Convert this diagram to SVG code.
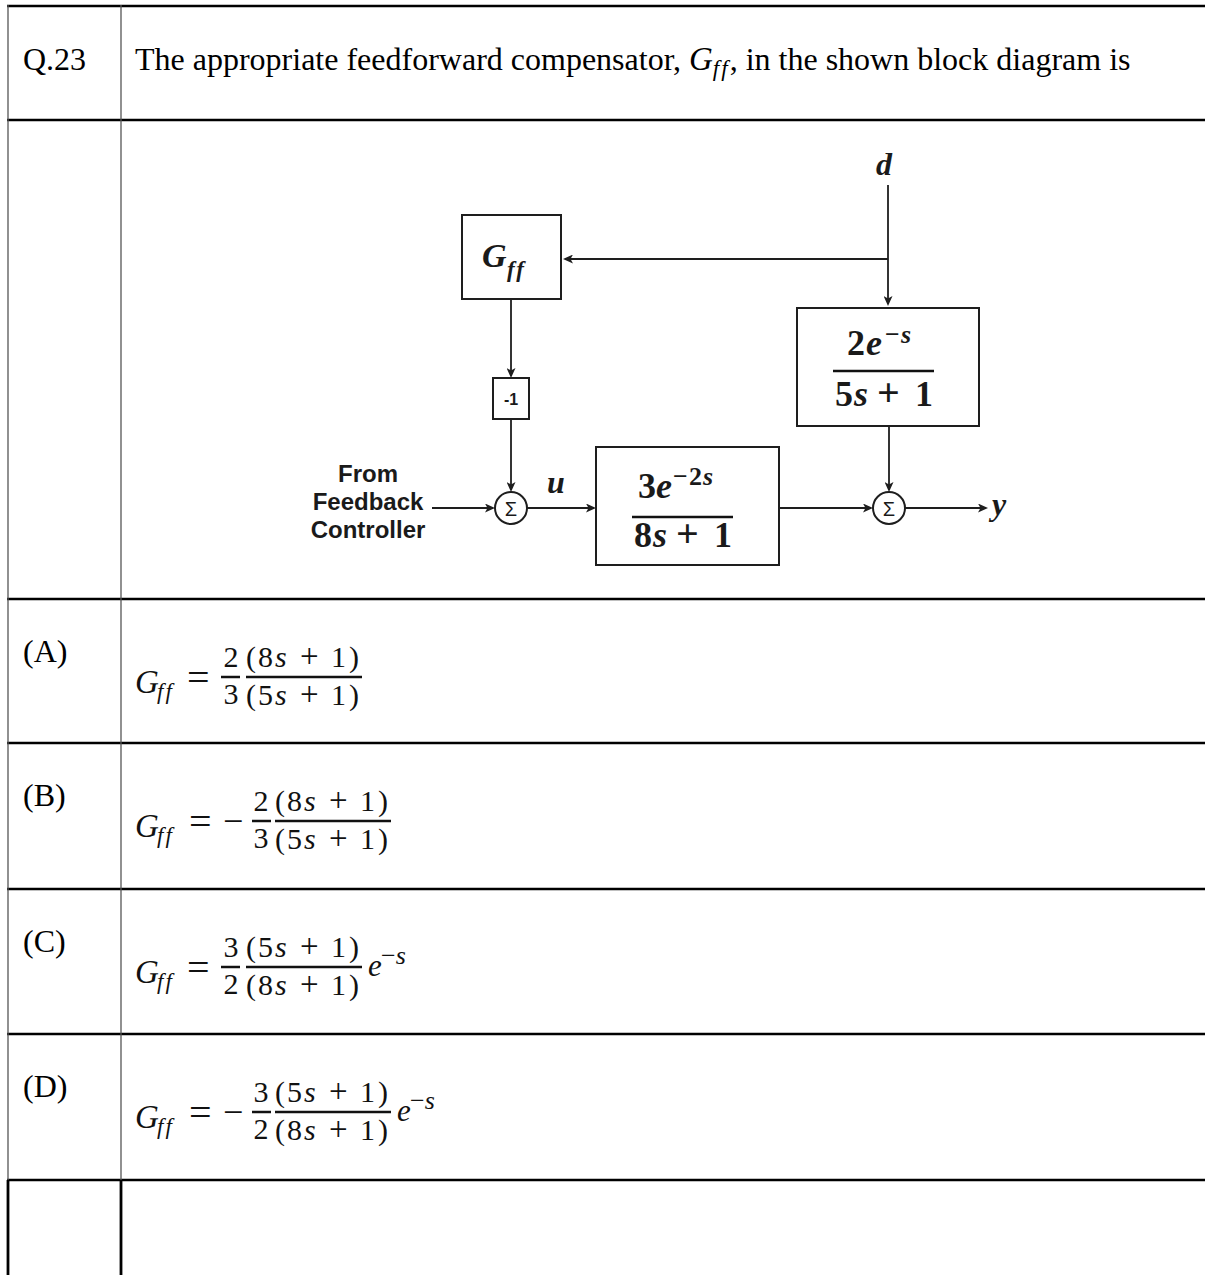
<svg xmlns="http://www.w3.org/2000/svg" width="1205" height="1275" viewBox="0 0 1205 1275">
<style>
text{font-variant-ligatures:none}
.tnr{font-family:"Liberation Serif","Times New Roman",serif;font-size:32px;fill:#000}
.m{font-family:"Liberation Serif","Times New Roman",serif;fill:#111}
.mi{font-style:italic}
.hl{stroke:#000;stroke-width:2.5;fill:none}
.vl{stroke:#555;stroke-width:1.3;fill:none}
.vb{stroke:#000;stroke-width:2.8;fill:none}
.bar{stroke:#111;stroke-width:2.5}
.box{fill:#fff;stroke:#1e1e1e;stroke-width:2}
.con{stroke:#1e1e1e;stroke-width:1.8;fill:none;marker-end:url(#ah)}
.db{font-family:"Liberation Serif","Times New Roman",serif;font-weight:bold;fill:#1a1a1a}
.dbi{font-family:"Liberation Serif","Times New Roman",serif;font-weight:bold;font-style:italic;fill:#1a1a1a}
.sans{font-family:"Liberation Sans",Arial,sans-serif;fill:#1a1a1a}
</style>
<defs>
<marker id="ah" markerUnits="userSpaceOnUse" markerWidth="10" markerHeight="9" viewBox="0 0 10 9" refX="8" refY="4.5" orient="auto">
<path d="M0,0 L10,4.5 L0,9 L2.5,4.5 z" fill="#1e1e1e"/>
</marker>
</defs>
<rect width="1205" height="1275" fill="#fff"/>

<g id="table">
<line class="hl" x1="7" y1="6" x2="1205" y2="6"/>
<line class="hl" x1="7" y1="120" x2="1205" y2="120"/>
<line class="hl" x1="7" y1="599" x2="1205" y2="599"/>
<line class="hl" x1="7" y1="743" x2="1205" y2="743"/>
<line class="hl" x1="7" y1="889" x2="1205" y2="889"/>
<line class="hl" x1="7" y1="1034" x2="1205" y2="1034"/>
<line class="hl" x1="7" y1="1180" x2="1205" y2="1180"/>
<line class="vl" x1="8" y1="5" x2="8" y2="1180"/>
<line class="vl" x1="121" y1="5" x2="121" y2="1180"/>
<line class="vb" x1="8" y1="1180" x2="8" y2="1275"/>
<line class="vb" x1="121" y1="1180" x2="121" y2="1275"/>
</g>

<g id="header">
<text class="tnr" x="23" y="70">Q.23</text>
<text class="tnr" x="135" y="70">The appropriate feedforward compensator, <tspan font-style="italic" font-size="33">G</tspan><tspan font-style="italic" font-size="23" dy="6" letter-spacing="2">ff</tspan><tspan dy="-6">, in the shown block diagram is</tspan></text>
</g>

<g id="labels">
<text class="tnr" x="23" y="662">(A)</text>
<text class="tnr" x="23" y="806">(B)</text>
<text class="tnr" x="23" y="952">(C)</text>
<text class="tnr" x="23" y="1097">(D)</text>
</g>

<g id="optA" transform="translate(0,677)">
<text class="m mi" x="135" y="16" font-size="33">G</text>
<text class="m mi" x="157" y="22" font-size="23" letter-spacing="2">ff</text>
<text class="m" x="187" y="14" font-size="40">=</text>
<line class="bar" x1="221" y1="0" x2="240" y2="0"/>
<text class="m" x="231" y="-10" font-size="30" text-anchor="middle">2</text>
<text class="m" x="231" y="27" font-size="30" text-anchor="middle">3</text>
<line class="bar" x1="246" y1="0" x2="362" y2="0"/>
<text class="m" y="-10" font-size="30"><tspan x="246">(</tspan><tspan x="258">8</tspan><tspan x="275" font-style="italic">s</tspan><tspan x="300" font-size="33">+</tspan><tspan x="331">1</tspan><tspan x="349">)</tspan></text>
<text class="m" y="28" font-size="30"><tspan x="246">(</tspan><tspan x="258">5</tspan><tspan x="275" font-style="italic">s</tspan><tspan x="300" font-size="33">+</tspan><tspan x="331">1</tspan><tspan x="349">)</tspan></text>
</g>

<g id="optB" transform="translate(0,821)">
<text class="m mi" x="135" y="16" font-size="33">G</text>
<text class="m mi" x="157" y="22" font-size="23" letter-spacing="2">ff</text>
<text class="m" x="189" y="14" font-size="40">=</text>
<text class="m" x="223" y="12" font-size="36">−</text>
<line class="bar" x1="252" y1="0" x2="271" y2="0"/>
<text class="m" x="261" y="-10" font-size="30" text-anchor="middle">2</text>
<text class="m" x="261" y="27" font-size="30" text-anchor="middle">3</text>
<line class="bar" x1="275" y1="0" x2="391" y2="0"/>
<text class="m" y="-10" font-size="30"><tspan x="275">(</tspan><tspan x="287">8</tspan><tspan x="304" font-style="italic">s</tspan><tspan x="329" font-size="33">+</tspan><tspan x="360">1</tspan><tspan x="378">)</tspan></text>
<text class="m" y="28" font-size="30"><tspan x="275">(</tspan><tspan x="287">5</tspan><tspan x="304" font-style="italic">s</tspan><tspan x="329" font-size="33">+</tspan><tspan x="360">1</tspan><tspan x="378">)</tspan></text>
</g>

<g id="optC" transform="translate(0,967)">
<text class="m mi" x="135" y="16" font-size="33">G</text>
<text class="m mi" x="157" y="22" font-size="23" letter-spacing="2">ff</text>
<text class="m" x="187" y="14" font-size="40">=</text>
<line class="bar" x1="221" y1="0" x2="240" y2="0"/>
<text class="m" x="231" y="-10" font-size="30" text-anchor="middle">3</text>
<text class="m" x="231" y="27" font-size="30" text-anchor="middle">2</text>
<line class="bar" x1="246" y1="0" x2="362" y2="0"/>
<text class="m" y="-10" font-size="30"><tspan x="246">(</tspan><tspan x="258">5</tspan><tspan x="275" font-style="italic">s</tspan><tspan x="300" font-size="33">+</tspan><tspan x="331">1</tspan><tspan x="349">)</tspan></text>
<text class="m" y="28" font-size="30"><tspan x="246">(</tspan><tspan x="258">8</tspan><tspan x="275" font-style="italic">s</tspan><tspan x="300" font-size="33">+</tspan><tspan x="331">1</tspan><tspan x="349">)</tspan></text>
<text class="m mi" x="368" y="9" font-size="31">e</text>
<text class="m" x="381" y="-3" font-size="26">−<tspan font-style="italic">s</tspan></text>
</g>

<g id="optD" transform="translate(0,1112)">
<text class="m mi" x="135" y="16" font-size="33">G</text>
<text class="m mi" x="157" y="22" font-size="23" letter-spacing="2">ff</text>
<text class="m" x="189" y="14" font-size="40">=</text>
<text class="m" x="223" y="12" font-size="36">−</text>
<line class="bar" x1="252" y1="0" x2="271" y2="0"/>
<text class="m" x="261" y="-10" font-size="30" text-anchor="middle">3</text>
<text class="m" x="261" y="27" font-size="30" text-anchor="middle">2</text>
<line class="bar" x1="275" y1="0" x2="391" y2="0"/>
<text class="m" y="-10" font-size="30"><tspan x="275">(</tspan><tspan x="287">5</tspan><tspan x="304" font-style="italic">s</tspan><tspan x="329" font-size="33">+</tspan><tspan x="360">1</tspan><tspan x="378">)</tspan></text>
<text class="m" y="28" font-size="30"><tspan x="275">(</tspan><tspan x="287">8</tspan><tspan x="304" font-style="italic">s</tspan><tspan x="329" font-size="33">+</tspan><tspan x="360">1</tspan><tspan x="378">)</tspan></text>
<text class="m mi" x="397" y="9" font-size="31">e</text>
<text class="m" x="410" y="-3" font-size="26">−<tspan font-style="italic">s</tspan></text>
</g>

<g id="connectors">
<line class="con" x1="888" y1="185" x2="888" y2="304"/>
<polyline class="con" points="888,259 565,259"/>
<line class="con" x1="511" y1="299" x2="511" y2="376"/>
<line class="con" x1="511" y1="419" x2="511" y2="490"/>
<line class="con" x1="432" y1="508" x2="493" y2="508"/>
<line class="con" x1="527" y1="508" x2="594" y2="508"/>
<line class="con" x1="779" y1="508" x2="871" y2="508"/>
<line class="con" x1="889" y1="426" x2="889" y2="490"/>
<line class="con" x1="905" y1="508" x2="986" y2="508"/>
</g>

<g id="node-gff">
<rect class="box" x="462" y="215" width="99" height="84"/>
<text class="dbi" x="482" y="267" font-size="34">G</text>
<text class="dbi" x="507" y="277" font-size="23" letter-spacing="2">ff</text>
</g>

<g id="node-neg">
<rect class="box" x="493" y="378" width="36" height="41"/>
<text class="sans" x="511" y="405" font-size="16" font-weight="bold" text-anchor="middle">-1</text>
</g>

<g id="node-sum1">
<circle class="box" cx="511" cy="508" r="16"/>
<text class="sans" x="511" y="515.5" font-size="20" text-anchor="middle">Σ</text>
</g>

<g id="node-plant">
<rect class="box" x="596" y="447" width="183" height="118"/>
<text class="db" y="498" font-size="36"><tspan x="638">3</tspan><tspan x="656" font-style="italic">e</tspan></text>
<text class="db" y="485" font-size="26"><tspan x="673">−</tspan><tspan x="689">2</tspan><tspan x="703" font-style="italic">s</tspan></text>
<line class="bar" x1="632" y1="517" x2="733" y2="517"/>
<text class="db" y="547" font-size="36"><tspan x="634">8</tspan><tspan x="653" font-style="italic">s</tspan><tspan x="676" font-size="40">+</tspan><tspan x="714">1</tspan></text>
</g>

<g id="node-dist">
<rect class="box" x="797" y="308" width="182" height="118"/>
<text class="db" y="355" font-size="36"><tspan x="847">2</tspan><tspan x="866" font-style="italic">e</tspan></text>
<text class="db" y="343" font-size="26"><tspan x="885">−</tspan><tspan x="901" font-style="italic">s</tspan></text>
<line class="bar" x1="833" y1="371" x2="934" y2="371"/>
<text class="db" y="406" font-size="36"><tspan x="835">5</tspan><tspan x="854" font-style="italic">s</tspan><tspan x="877" font-size="40">+</tspan><tspan x="915">1</tspan></text>
</g>

<g id="node-sum2">
<circle class="box" cx="889" cy="508" r="16"/>
<text class="sans" x="889" y="515.5" font-size="20" text-anchor="middle">Σ</text>
</g>

<g id="node-labels">
<text class="sans" x="368" y="482" font-size="24" font-weight="bold" text-anchor="middle">From</text>
<text class="sans" x="368" y="510" font-size="24" font-weight="bold" text-anchor="middle">Feedback</text>
<text class="sans" x="368" y="538" font-size="24" font-weight="bold" text-anchor="middle">Controller</text>
<text class="dbi" x="547" y="493" font-size="32">u</text>
<text class="dbi" x="876" y="175" font-size="32">d</text>
<text class="dbi" x="992" y="515" font-size="32">y</text>
</g>
</svg>
